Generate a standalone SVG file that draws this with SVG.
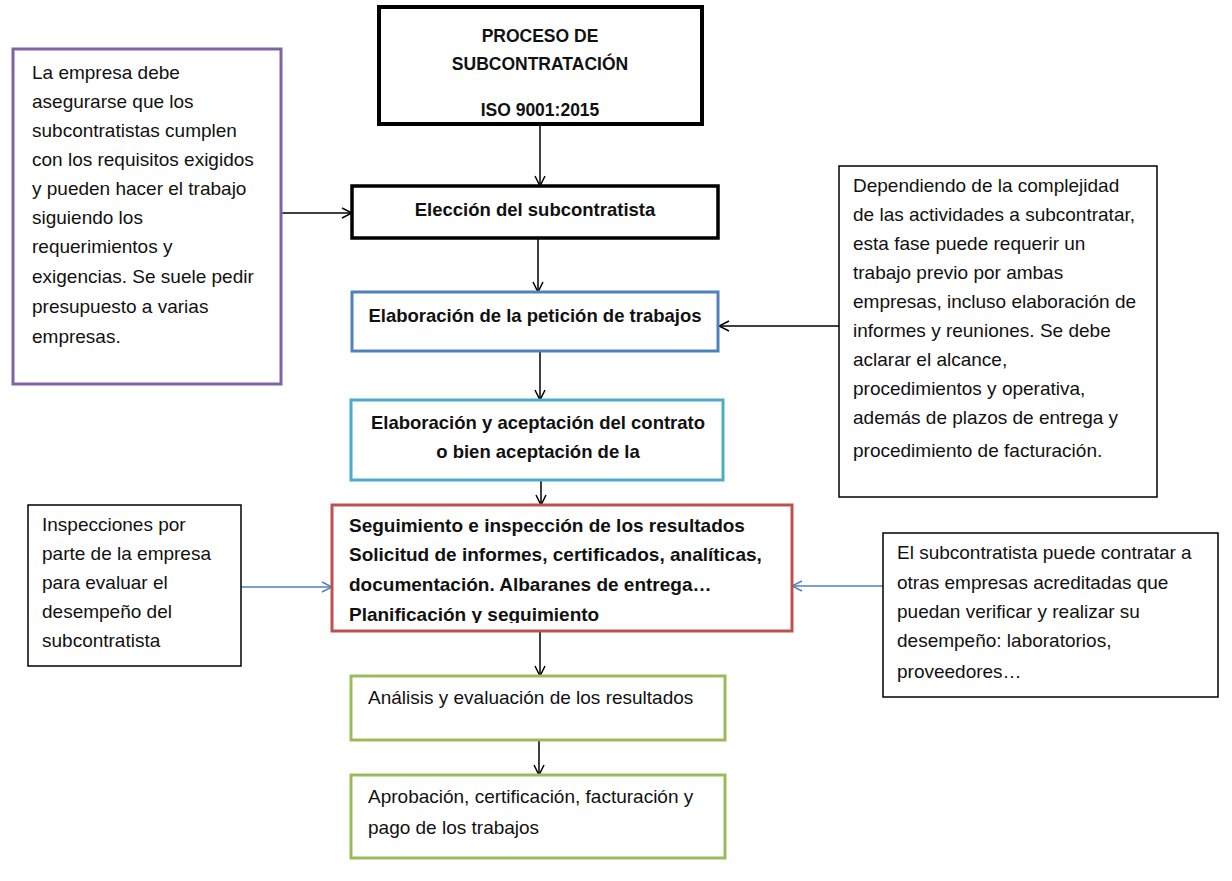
<svg xmlns="http://www.w3.org/2000/svg" width="1232" height="881" viewBox="0 0 1232 881">
<style>
  .t{font-family:"Liberation Sans",Arial,sans-serif;font-size:19px;fill:#111}
  .b{font-weight:bold}
  .c{text-anchor:middle}
  .m{font-size:18.5px}
  .box{fill:#fff}
  .conn{fill:none;stroke-width:1.5}
</style>
<defs>
  <marker id="ah" viewBox="0 0 12 12" refX="11" refY="6" markerWidth="12" markerHeight="12" markerUnits="userSpaceOnUse" orient="auto">
    <path d="M1,1 L11,6 L1,11" fill="none" stroke="#000" stroke-width="1.5"/>
  </marker>
  <marker id="ahb" viewBox="0 0 12 12" refX="11" refY="6" markerWidth="12" markerHeight="12" markerUnits="userSpaceOnUse" orient="auto">
    <path d="M1,1 L11,6 L1,11" fill="none" stroke="#4f81bd" stroke-width="1.5"/>
  </marker>
  <clipPath id="clipSeg"><rect x="334" y="507" width="456" height="116"/></clipPath>
</defs>
<rect width="1232" height="881" fill="#fff"/>

<g id="connectors">
  <path class="conn" stroke="#000" d="M540,124 V186" marker-end="url(#ah)"/>
  <path class="conn" stroke="#000" d="M538,238 V292" marker-end="url(#ah)"/>
  <path class="conn" stroke="#000" d="M540,351 V400" marker-end="url(#ah)"/>
  <path class="conn" stroke="#000" d="M541,480 V505" marker-end="url(#ah)"/>
  <path class="conn" stroke="#000" d="M540,631 V676" marker-end="url(#ah)"/>
  <path class="conn" stroke="#000" d="M539,740 V775" marker-end="url(#ah)"/>
  <path class="conn" stroke="#000" d="M281,213 H352" marker-end="url(#ah)"/>
  <path class="conn" stroke="#000" d="M839,326 H719" marker-end="url(#ah)"/>
  <path class="conn" stroke="#4f81bd" d="M241,587 H332" marker-end="url(#ahb)"/>
  <path class="conn" stroke="#4f81bd" d="M883,586 H792" marker-end="url(#ahb)"/>
</g>

<g id="title">
  <rect class="box" x="379" y="7" width="323" height="117" stroke="#000" stroke-width="4"/>
  <text class="t b c" x="540" y="42" style="font-size:17.5px">PROCESO DE</text>
  <text class="t b c" x="540" y="70" style="font-size:17.5px">SUBCONTRATACIÓN</text>
  <text class="t b c" x="540" y="116" style="font-size:17.5px">ISO 9001:2015</text>
</g>

<g id="eleccion">
  <rect class="box" x="352" y="186" width="366" height="52" stroke="#000" stroke-width="3.5"/>
  <text class="t b c m" x="535" y="216">Elección del subcontratista</text>
</g>

<g id="peticion">
  <rect class="box" x="352" y="292" width="366" height="59" stroke="#4f81bd" stroke-width="3"/>
  <text class="t b c m" x="535" y="322">Elaboración de la petición de trabajos</text>
</g>

<g id="contrato">
  <rect class="box" x="351" y="400" width="372" height="80" stroke="#4bacc6" stroke-width="3"/>
  <text class="t b c m" x="538" y="429">Elaboración y aceptación del contrato</text>
  <text class="t b c m" x="538" y="458">o bien aceptación de la</text>
</g>

<g id="seguimiento">
  <rect class="box" x="332" y="505" width="460" height="126" stroke="#c0504d" stroke-width="3"/>
  <g clip-path="url(#clipSeg)">
    <text class="t b" x="349" y="532">Seguimiento e inspección de los resultados</text>
    <text class="t b" x="349" y="561">Solicitud de informes, certificados, analíticas,</text>
    <text class="t b" x="349" y="591">documentación. Albaranes de entrega…</text>
    <text class="t b" x="349" y="621">Planificación y seguimiento</text>
  </g>
</g>

<g id="analisis">
  <rect class="box" x="351" y="676" width="374" height="64" stroke="#9bbb59" stroke-width="3"/>
  <text class="t" x="368" y="704">Análisis y evaluación de los resultados</text>
</g>

<g id="aprobacion">
  <rect class="box" x="351" y="775" width="374" height="83" stroke="#9bbb59" stroke-width="3"/>
  <text class="t" x="368" y="803">Aprobación, certificación, facturación y</text>
  <text class="t" x="368" y="834">pago de los trabajos</text>
</g>

<g id="nota-eleccion">
  <rect class="box" x="13" y="49" width="268" height="335" stroke="#8064a2" stroke-width="3"/>
  <text class="t" x="32" y="79">La empresa debe</text>
  <text class="t" x="32" y="108">asegurarse que los</text>
  <text class="t" x="32" y="137">subcontratistas cumplen</text>
  <text class="t" x="32" y="166">con los requisitos exigidos</text>
  <text class="t" x="32" y="195">y pueden hacer el trabajo</text>
  <text class="t" x="32" y="224">siguiendo los</text>
  <text class="t" x="32" y="253">requerimientos y</text>
  <text class="t" x="32" y="283">exigencias. Se suele pedir</text>
  <text class="t" x="32" y="313">presupuesto a varias</text>
  <text class="t" x="32" y="343">empresas.</text>
</g>

<g id="nota-peticion">
  <rect class="box" x="839" y="166" width="318" height="331" stroke="#000" stroke-width="1.5"/>
  <text class="t" x="853" y="192">Dependiendo de la complejidad</text>
  <text class="t" x="853" y="221">de las actividades a subcontratar,</text>
  <text class="t" x="853" y="250">esta fase puede requerir un</text>
  <text class="t" x="853" y="279">trabajo previo por ambas</text>
  <text class="t" x="853" y="308">empresas, incluso elaboración de</text>
  <text class="t" x="853" y="337">informes y reuniones. Se debe</text>
  <text class="t" x="853" y="366">aclarar el alcance,</text>
  <text class="t" x="853" y="395">procedimientos y operativa,</text>
  <text class="t" x="853" y="424">además de plazos de entrega y</text>
  <text class="t" x="853" y="457">procedimiento de facturación.</text>
</g>

<g id="nota-inspecciones">
  <rect class="box" x="28" y="505" width="213" height="161" stroke="#000" stroke-width="1.5"/>
  <text class="t" x="42" y="531">Inspecciones por</text>
  <text class="t" x="42" y="560">parte de la empresa</text>
  <text class="t" x="42" y="589">para evaluar el</text>
  <text class="t" x="42" y="618">desempeño del</text>
  <text class="t" x="42" y="647">subcontratista</text>
</g>

<g id="nota-subcontratista">
  <rect class="box" x="883" y="533" width="335" height="164" stroke="#000" stroke-width="1.5"/>
  <text class="t" x="897" y="559">El subcontratista puede contratar a</text>
  <text class="t" x="897" y="589">otras empresas acreditadas que</text>
  <text class="t" x="897" y="618">puedan verificar y realizar su</text>
  <text class="t" x="897" y="647">desempeño: laboratorios,</text>
  <text class="t" x="897" y="678">proveedores…</text>
</g>
</svg>
